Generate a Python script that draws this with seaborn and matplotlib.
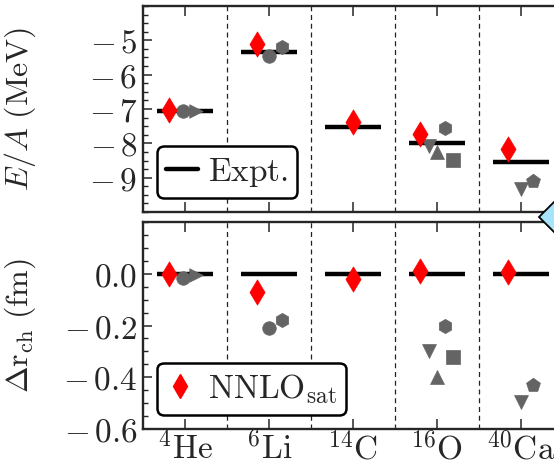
import matplotlib
matplotlib.use("Agg")
import numpy as np
import pandas as pd
import matplotlib.pyplot as plt
import seaborn as sns
from matplotlib.ticker import FixedLocator, MultipleLocator, FuncFormatter
from matplotlib.lines import Line2D

# ---------------- data ----------------
nuclei = [r"$^{4}\mathrm{He}$", r"$^{6}\mathrm{Li}$", r"$^{14}\mathrm{C}$",
          r"$^{16}\mathrm{O}$", r"$^{40}\mathrm{Ca}$"]
expt_E = [-7.07, -5.33, -7.52, -7.98, -8.55]
expt_r = [0.0, 0.0, 0.0, 0.0, 0.0]

nnlo_E = [-7.02, -5.10, -7.37, -7.73, -8.16]
nnlo_r = [0.0, -0.07, -0.02, 0.01, 0.005]
nnlo_dx = [-0.19, -0.14, 0.0, -0.20, -0.15]

# other interactions (gray markers): nucleus index, x offset, E/A, delta r_ch
circ_idx = [0, 1];  circ_dx = [-0.02, 0.0];  circ_E = [-7.05, -5.47];  circ_r = [-0.015, -0.21]
rtri_idx = [0];     rtri_dx = [0.13];        rtri_E = [-7.07];         rtri_r = [-0.005]
hexa_idx = [1, 3];  hexa_dx = [0.15, 0.10];  hexa_E = [-5.18, -7.55];  hexa_r = [-0.18, -0.20]
dtri_idx = [3, 4];  dtri_dx = [-0.10, 0.0];  dtri_E = [-8.07, -9.32];  dtri_r = [-0.297, -0.497]
utri_idx = [3];     utri_dx = [0.0];         utri_E = [-8.24];         utri_r = [-0.40]
squa_idx = [3];     squa_dx = [0.19];        squa_E = [-8.49];         squa_r = [-0.32]
pent_idx = [4];     pent_dx = [0.14];        pent_E = [-9.10];         pent_r = [-0.43]

gray_series = [
    ("o", 95, circ_idx, circ_dx, circ_E, circ_r),
    (">", 95, rtri_idx, rtri_dx, rtri_E, rtri_r),
    ("h", 105, hexa_idx, hexa_dx, hexa_E, hexa_r),
    ("v", 100, dtri_idx, dtri_dx, dtri_E, dtri_r),
    ("^", 100, utri_idx, utri_dx, utri_E, utri_r),
    ("s", 100, squa_idx, squa_dx, squa_E, squa_r),
    ("p", 110, pent_idx, pent_dx, pent_E, pent_r),
]

# ---------------- style ----------------
sns.set_theme(style="ticks")
plt.rcParams['font.family'] = ['DejaVu Serif']
plt.rcParams['mathtext.fontset'] = 'cm'
plt.rcParams['axes.linewidth'] = 1.7
FS_TICK = 24
FS_LAB = 23
FS_LEG = 24
FS_XT = 24
GRAY = "#646464"

fig = plt.figure(figsize=(5.54, 4.65), dpi=100)
W = 420 / 554
ax1 = fig.add_axes([143 / 554, 1 - 212 / 465, W, 206 / 465])
ax2 = fig.add_axes([143 / 554, 1 - 429 / 465, W, 207 / 465])

xpos = np.arange(len(nuclei))

for ax, ycol, expt, nnlo in [(ax1, 4, expt_E, nnlo_E), (ax2, 5, expt_r, nnlo_r)]:
    ax.set_xlim(-0.5, len(nuclei) - 0.5)
    for xd in xpos[:-1] + 0.5:
        ax.axvline(xd, ls=(0, (4, 3)), color="#222222", lw=0.9, zorder=1)
    ax.hlines(expt, xpos - 0.33, xpos + 0.33, color="black", lw=3.2, zorder=2)
    for mk, s, idx, dx, e, r in gray_series:
        vals = e if ycol == 4 else r
        df = pd.DataFrame({"x": xpos[idx] + np.array(dx), "y": vals})
        sns.scatterplot(data=df, x="x", y="y", marker=mk, s=s, color=GRAY,
                        edgecolor=GRAY, linewidth=0.5, ax=ax, zorder=3, legend=False)
    dfn = pd.DataFrame({"x": xpos + np.array(nnlo_dx), "y": nnlo})
    sns.scatterplot(data=dfn, x="x", y="y", marker="d", s=165, color="red",
                    edgecolor="red", linewidth=0.5, ax=ax, zorder=4, legend=False)
    ax.set_xticks(xpos)
    ax.tick_params(axis="x", which="major", direction="in", length=7, width=1.1,
                   top=True, bottom=True)
    ax.tick_params(axis="y", which="major", direction="in", length=6.5, width=1.1,
                   left=True, right=True, labelsize=FS_TICK, pad=4)
    ax.tick_params(axis="y", which="minor", direction="in", length=3.5, width=1.0,
                   left=True, right=True)
    ax.set_xlabel("")

# top panel
ax1.set_ylim(-10, -4)
ax1.yaxis.set_major_locator(FixedLocator([-9, -8, -7, -6, -5]))
ax1.yaxis.set_minor_locator(MultipleLocator(0.25))
ax1.yaxis.set_major_formatter(FuncFormatter(lambda v, p: rf"$-\,{abs(v):.0f}$"))
ax1.set_xticklabels([])
ax1.set_ylabel(r"$E/A\ \mathrm{(MeV)}$", fontsize=FS_LAB)

# bottom panel
def fmt_r(v, p):
    if abs(v) < 1e-9:
        return "$0.0$"
    return rf"$-\,{abs(v):.1f}$"

ax2.set_ylim(-0.6, 0.2)
ax2.yaxis.set_major_locator(FixedLocator([-0.6, -0.4, -0.2, 0.0]))
ax2.yaxis.set_minor_locator(MultipleLocator(0.05))
ax2.yaxis.set_major_formatter(FuncFormatter(fmt_r))
ax2.set_xticklabels(nuclei, fontsize=FS_XT)
ax2.tick_params(axis="x", pad=2)
ax2.set_ylabel(r"$\Delta\mathrm{r}_{\mathrm{ch}}\ \mathrm{(fm)}$", fontsize=FS_LAB)

ax1.yaxis.set_label_coords(-0.25, 0.5)
ax2.yaxis.set_label_coords(-0.25, 0.5)

# legends
h1 = [Line2D([], [], color="black", lw=3.2)]
leg1 = ax1.legend(h1, [r"$\mathrm{Expt.}$"], loc="lower left", fontsize=FS_LEG,
                  handlelength=0.95, handletextpad=0.3, borderpad=0.28,
                  borderaxespad=0.42, fancybox=True, framealpha=1, edgecolor="black")
leg1.get_frame().set_linewidth(1.8)
h2 = [Line2D([], [], color="red", marker="d", ls="none", markersize=12.5)]
leg2 = ax2.legend(h2, [r"$\mathrm{NNLO}_{\mathrm{sat}}$"], loc="lower left", fontsize=FS_LEG,
                  handlelength=0.8, handletextpad=0.45, borderpad=0.28,
                  borderaxespad=0.42, fancybox=True, framealpha=1, edgecolor="black")
leg2.get_frame().set_linewidth(1.8)

# partially visible marker at the right edge
fig.add_artist(Line2D([566 / 554], [1 - 217 / 465], transform=fig.transFigure,
                      marker="D", markersize=28, markerfacecolor="#a6e3fc",
                      markeredgecolor="black", markeredgewidth=1.3, ls="none"))

fig.savefig("out.png", dpi=100)
